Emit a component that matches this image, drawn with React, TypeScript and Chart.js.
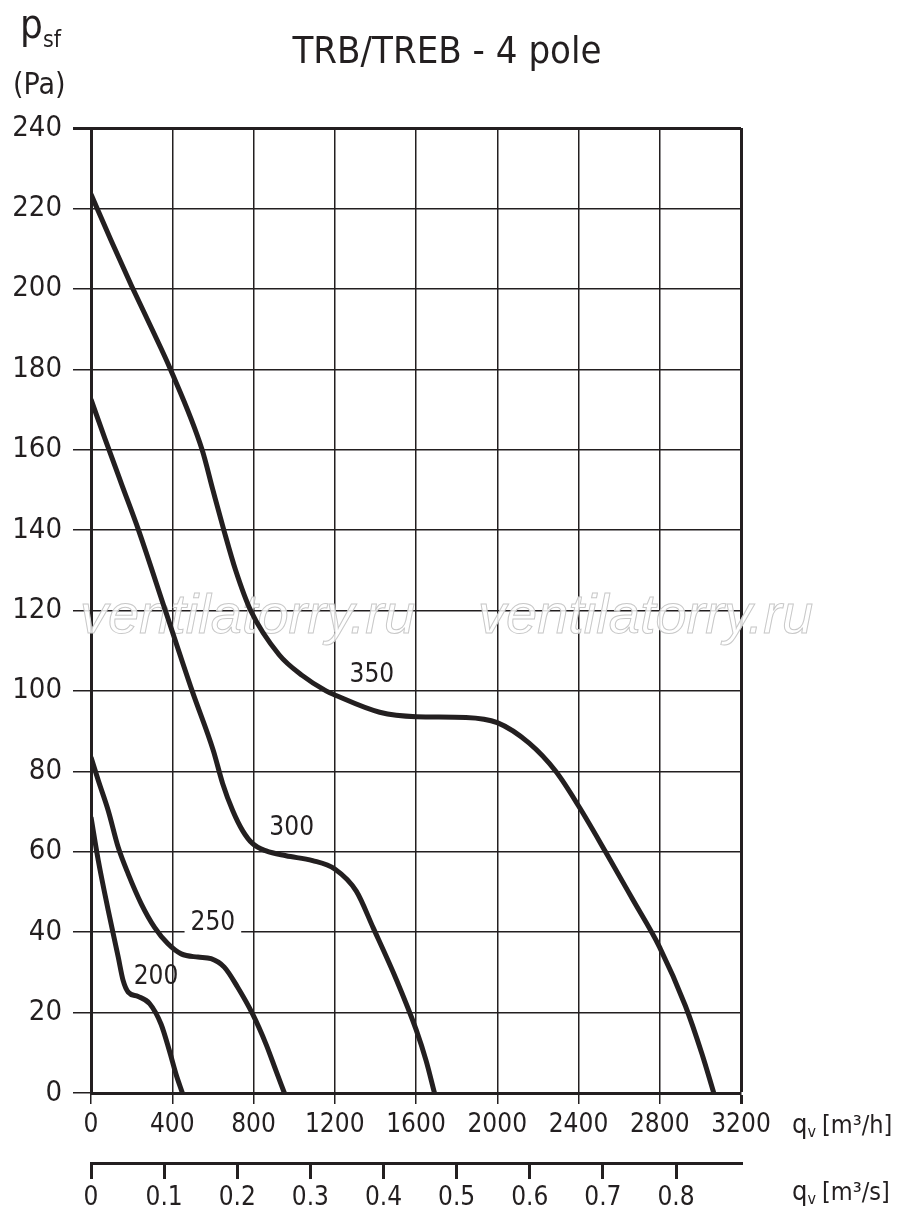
import { useEffect, useRef } from "react";
import { Chart, registerables, type Plugin } from "chart.js";

Chart.register(...registerables);

// fan sizes, one curve each
const SIZES = ["200", "250", "300", "350"];

// air flow qv [m3/h] and static pressure psf [Pa]
const QV_200 = [0, 36, 85, 134, 158, 183, 232, 289, 345, 386, 419, 450];
const PSF_200 = [68.6, 57.8, 45.4, 33.8, 28, 25.1, 24, 22.2, 17.1, 10.5, 4.6, 0];

const QV_250 = [0, 36, 85, 134, 183, 248, 313, 379, 444, 526, 591, 656, 722, 796, 862, 911, 952];
const PSF_250 = [83.5, 77.7, 70.2, 61.1, 54.5, 47, 41.2, 37.1, 34.6, 33.8, 33.4, 31.3, 26.3, 19.6, 12.1, 5.5, 0];

const QV_300 = [0, 69, 150, 234, 366, 498, 602, 648, 698, 747, 796, 862, 960, 1091, 1200, 1306, 1390, 1505, 1601, 1650, 1691];
const PSF_300 = [172.5, 162.7, 151.5, 140, 120, 100, 85.2, 77, 70.2, 65.2, 62, 60.2, 59, 57.8, 55.7, 50.2, 41, 28, 15.7, 8, 0];

const QV_350 = [0, 99, 201, 300, 391, 547, 600, 654, 712, 786, 926, 1041, 1157, 1200, 1421, 1601, 1846, 2000, 2157, 2288, 2399, 2533, 2665, 2799, 2926, 3008, 3066];
const PSF_350 = [223.5, 212, 200.6, 190, 180, 160, 150, 140, 130, 120, 109, 103.8, 100, 99, 94.7, 93.6, 93.4, 92.1, 87, 80, 71.5, 60, 48.3, 36.3, 21.7, 9.7, 0];

// where the size labels sit, in chart units
const LABEL_QV = [320, 600, 988, 1383];
const LABEL_PSF = [28.9, 42.3, 65.8, 104];

// tick values of the three axes
const QV_TICKS = [0, 400, 800, 1200, 1600, 2000, 2400, 2800, 3200]; // m3/h
const QVS_TICKS = [0, 0.1, 0.2, 0.3, 0.4, 0.5, 0.6, 0.7, 0.8]; // m3/s
const PSF_TICKS = [0, 20, 40, 60, 80, 100, 120, 140, 160, 180, 200, 220, 240]; // Pa

const QV_MAX = 3200;
const PSF_MAX = 240;

const TITLE = "TRB/TREB - 4 pole";
const FONT = "'DejaVu Sans Condensed', 'DejaVu Sans', sans-serif";
const INK = "#231f20";

const CURVES = [
  [QV_200, PSF_200],
  [QV_250, PSF_250],
  [QV_300, PSF_300],
  [QV_350, PSF_350],
];

const watermark: Plugin<"line"> = {
  id: "watermark",
  beforeDatasetsDraw(chart) {
    const { ctx } = chart;
    ctx.save();
    ctx.font = "italic 56px 'Liberation Sans', Arial, sans-serif";
    ctx.textBaseline = "middle";
    ctx.textAlign = "left";
    ctx.strokeStyle = "#c8c8c8";
    ctx.lineWidth = 1;
    ctx.fillStyle = "rgba(255,255,255,0.85)";
    for (const x of [80, 478]) {
      ctx.fillText("ventilatorry.ru", x, 617);
      ctx.strokeText("ventilatorry.ru", x, 617);
    }
    ctx.restore();
  },
};

const labels: Plugin<"line"> = {
  id: "labels",
  afterDraw(chart) {
    const { ctx } = chart;
    const sx = chart.scales.x;
    const sy = chart.scales.y;
    ctx.save();
    ctx.fillStyle = INK;

    // title
    ctx.textAlign = "center";
    ctx.textBaseline = "middle";
    ctx.font = `38px ${FONT}`;
    ctx.fillText(TITLE, 447, 53);

    ctx.font = `26px ${FONT}`;
    SIZES.forEach((s, i) => {
      const px = sx.getPixelForValue(LABEL_QV[i]);
      const py = sy.getPixelForValue(LABEL_PSF[i]);
      if (s === "250") {
        const w = ctx.measureText(s).width + 12;
        ctx.fillStyle = "#fff";
        ctx.fillRect(px - w / 2, py + 8, w, 14);
        ctx.fillStyle = INK;
      }
      ctx.fillText(s, px, py);
    });

    // y axis title
    ctx.textAlign = "left";
    ctx.textBaseline = "alphabetic";
    ctx.font = `40px ${FONT}`;
    ctx.fillText("p", 20, 38);
    ctx.font = `23px ${FONT}`;
    ctx.fillText("sf", 43, 47);
    ctx.font = `30px ${FONT}`;
    ctx.fillText("(Pa)", 13, 94);

    // x axis units
    const unit = (y: number, text: string) => {
      let x = 792;
      ctx.font = `27px ${FONT}`;
      ctx.fillText("q", x, y);
      x += ctx.measureText("q").width;
      ctx.font = `16px ${FONT}`;
      ctx.fillText("v", x, y + 4);
      x += ctx.measureText("v").width + 6;
      ctx.font = `25px ${FONT}`;
      ctx.fillText(text, x, y);
    };
    unit(1133, "[m³/h]");
    unit(1200, "[m³/s]");
    ctx.restore();
  },
};

const plain = (v: number | string) => String(v);

export default function App() {
  const canvasRef = useRef<HTMLCanvasElement>(null);

  useEffect(() => {
    if (!canvasRef.current) return;

    const chart = new Chart(canvasRef.current, {
      type: "line",
      data: {
        datasets: CURVES.map(([qv, psf], i) => ({
          label: SIZES[i],
          data: qv.map((x, j) => ({ x, y: psf[j] })),
          borderColor: INK,
          borderWidth: 5,
          pointRadius: 0,
          fill: false,
          cubicInterpolationMode: "monotone" as const,
        })),
      },
      options: {
        responsive: false,
        animation: false,
        devicePixelRatio: 1,
        layout: { padding: { top: 128, right: 159, bottom: 0, left: 0 } },
        plugins: {
          legend: { display: false },
          tooltip: { enabled: false },
          title: { display: false },
        },
        scales: {
          x: {
            type: "linear",
            position: "bottom",
            min: 0,
            max: QV_MAX,
            afterFit: (s) => { s.height = 70; },
            afterBuildTicks: (s) => { s.ticks = QV_TICKS.map((value) => ({ value })); },
            ticks: {
              color: INK,
              padding: 6,
              maxRotation: 0,
              autoSkip: false,
              callback: plain,
              font: { family: FONT, size: 26 },
            },
            grid: {
              color: INK,
              lineWidth: (c) => (c.tick && c.tick.value === QV_MAX ? 3 : 1.5),
              tickLength: 11,
            },
            border: { display: true, color: INK, width: 3 },
          },
          x2: {
            type: "linear",
            position: "bottom",
            weight: 1,
            min: 0,
            max: QV_MAX / 3600,
            afterFit: (s) => { s.height = 67; },
            afterBuildTicks: (s) => { s.ticks = QVS_TICKS.map((value) => ({ value })); },
            ticks: {
              color: INK,
              padding: 4,
              maxRotation: 0,
              autoSkip: false,
              callback: plain,
              font: { family: FONT, size: 26 },
            },
            grid: {
              drawOnChartArea: false,
              color: INK,
              lineWidth: 3,
              tickLength: 16,
            },
            border: { display: true, color: INK, width: 3 },
          },
          y: {
            type: "linear",
            min: 0,
            max: PSF_MAX,
            afterFit: (s) => { s.width = 91; },
            afterBuildTicks: (s) => { s.ticks = PSF_TICKS.map((value) => ({ value })); },
            ticks: {
              color: INK,
              padding: 11,
              autoSkip: false,
              callback: plain,
              font: { family: FONT, size: 29 },
            },
            grid: {
              color: INK,
              lineWidth: (c) => (c.tick && c.tick.value === PSF_MAX ? 3 : 1.5),
              tickLength: 18,
            },
            border: { display: true, color: INK, width: 3 },
          },
        },
      },
      plugins: [watermark, labels],
    });

    return () => chart.destroy();
  }, []);

  return (
    <div style={{ position: "absolute", left: 0, top: 0, width: 900, height: 1230, background: "#fff" }}>
      <canvas ref={canvasRef} width={900} height={1230} />
    </div>
  );
}
